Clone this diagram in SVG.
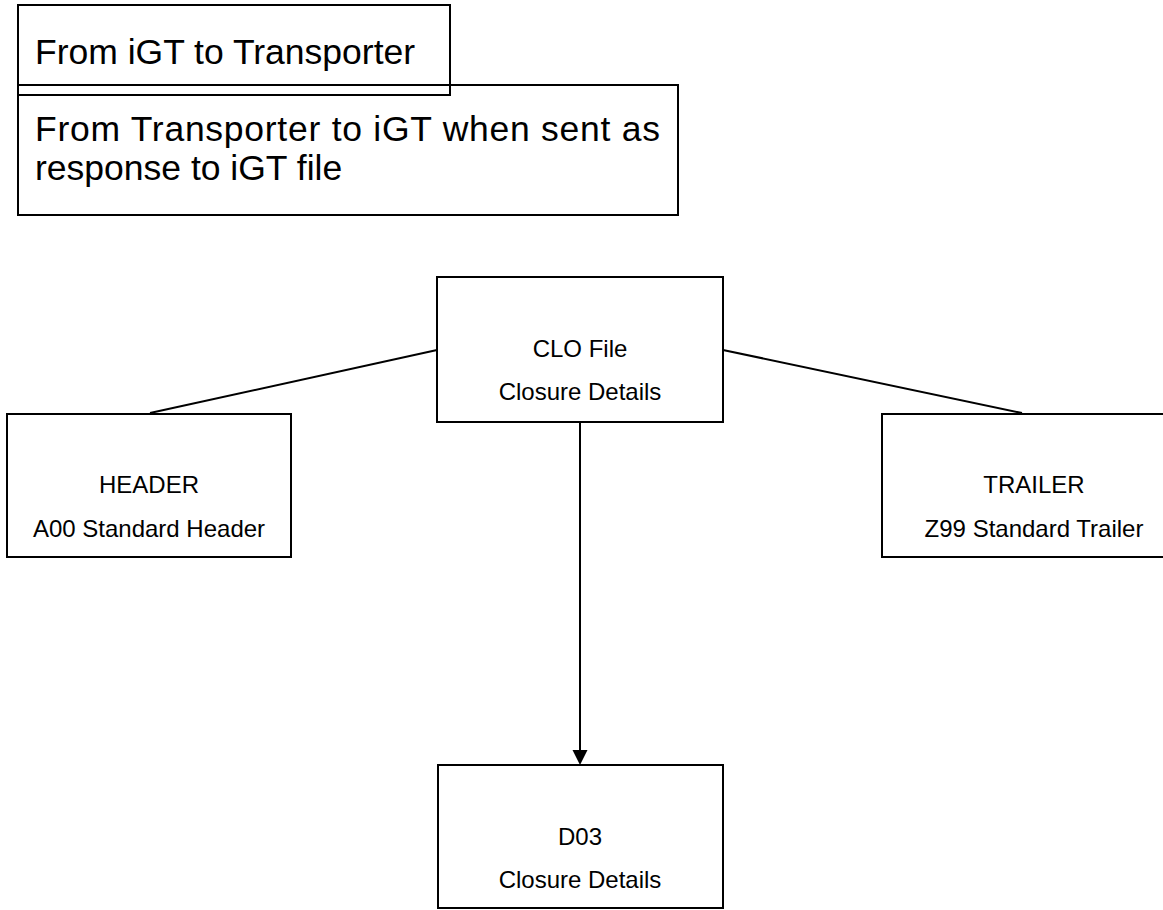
<svg xmlns="http://www.w3.org/2000/svg" width="1163" height="910" viewBox="0 0 1163 910">
<style>
.box{fill:#fff;stroke:#000;stroke-width:2}
.hd{fill:none;stroke:#000;stroke-width:2}
.big{font-family:"Liberation Sans",Arial,sans-serif;font-size:35.5px;fill:#000}
.sm{font-family:"Liberation Sans",Arial,sans-serif;font-size:24px;fill:#000;text-anchor:middle}
.conn{stroke:#000;stroke-width:2;fill:none}
</style>
<rect width="1163" height="910" fill="#fff"/>
<g id="legend-1">
<rect class="hd" x="18" y="5" width="432" height="90"/>
<text class="big" x="35" y="64">From iGT to Transporter</text>
</g>
<g id="legend-2">
<rect class="hd" x="18" y="85" width="660" height="130"/>
<text class="big" x="35" y="141" textLength="625" lengthAdjust="spacing">From Transporter to iGT when sent as</text>
<text class="big" x="35" y="180">response to iGT file</text>
</g>
<g id="connectors">
<line class="conn" x1="437" y1="350" x2="150" y2="413"/>
<line class="conn" x1="723" y1="350" x2="1022" y2="413"/>
<line class="conn" x1="580" y1="422" x2="580" y2="750"/>
<path d="M572.5,750 L587.5,750 L580,765 z" fill="#000"/>
</g>
<g id="clo">
<rect class="box" x="437" y="277" width="286" height="145"/>
<text class="sm" x="580" y="357">CLO File</text>
<text class="sm" x="580" y="400">Closure Details</text>
</g>
<g id="header">
<rect class="box" x="7" y="414" width="284" height="143"/>
<text class="sm" x="149" y="493">HEADER</text>
<text class="sm" x="149" y="537">A00 Standard Header</text>
</g>
<g id="trailer">
<rect class="box" x="882" y="414" width="304" height="143"/>
<text class="sm" x="1034" y="493">TRAILER</text>
<text class="sm" x="1034" y="537">Z99 Standard Trailer</text>
</g>
<g id="d03">
<rect class="box" x="438" y="765" width="285" height="143"/>
<text class="sm" x="580" y="845">D03</text>
<text class="sm" x="580" y="888">Closure Details</text>
</g>
</svg>
